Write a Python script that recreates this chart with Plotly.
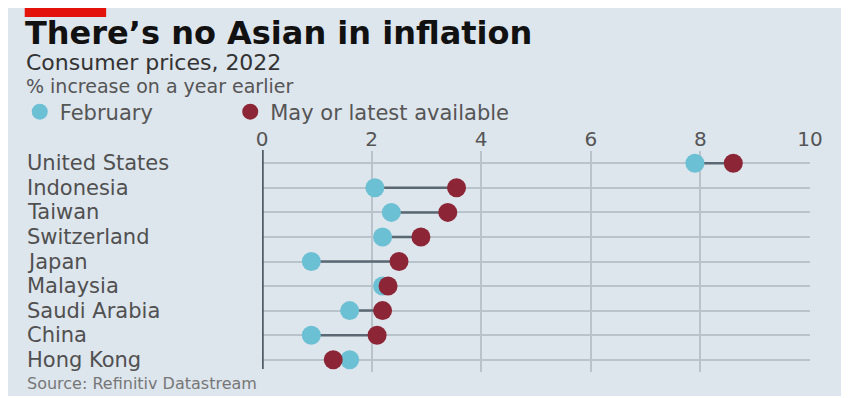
import plotly.graph_objects as go

# ---- data ----
countries = ["United States", "Indonesia", "Taiwan", "Switzerland", "Japan",
             "Malaysia", "Saudi Arabia", "China", "Hong Kong"]
february = [7.9, 2.06, 2.36, 2.2, 0.9, 2.2, 1.6, 0.9, 1.6]
may_latest = [8.6, 3.55, 3.39, 2.9, 2.5, 2.3, 2.2, 2.1, 1.3]
x_ticks = [0, 2, 4, 6, 8, 10]
x_tick_labels = ["0", "2", "4", "6", "8", "10"]

title = "There\u2019s no Asian in inflation"
subtitle = "Consumer prices, 2022"
subtitle2 = "% increase on a year earlier"
source = "Source: Refinitiv Datastream"

# ---- styling ----
OFF = 8  # page body margin
W, H = 838, 388
ML, MR, MT, MB = 250, 36, 143, 24
PW, PH = W - ML - MR, H - MT - MB
BG = "#dde5ed"
TEAL = "#6cc0d3"
RED = "#8c2637"
GRID = "#b8c3cc"
FONT = "DejaVu Sans"
TX = 19  # left edge anchor for texts (screen px)


def px(xs):
    return (xs - OFF - ML) / PW


def py(ys):
    return (H - MB - (ys - OFF)) / PH


rows = list(range(len(countries)))

fig = go.Figure()

# connectors
cx, cy = [], []
for r, a, b in zip(rows, february, may_latest):
    cx += [a, b, None]
    cy += [r, r, None]
fig.add_trace(go.Scatter(x=cx, y=cy, mode="lines",
                         line=dict(color="#5b6873", width=2.5),
                         showlegend=False, hoverinfo="skip"))

fig.add_trace(go.Scatter(x=february, y=rows, mode="markers", name="February",
                         marker=dict(color=TEAL, size=19, line=dict(width=0)),
                         text=countries, cliponaxis=False, legend="legend"))
fig.add_trace(go.Scatter(x=may_latest, y=rows, mode="markers",
                         name="May or latest available",
                         marker=dict(color=RED, size=19, line=dict(width=0)),
                         text=countries, cliponaxis=False, legend="legend2"))

shapes = [
    dict(type="rect", xref="paper", yref="paper", x0=px(19), x1=px(101),
         y0=py(17), y1=py(8), fillcolor="#e3120b", line=dict(width=0)),
    # dark zero axis line
    dict(type="line", xref="x", yref="paper", x0=0, x1=0, y0=py(369), y1=py(150),
         line=dict(color="#505c66", width=3.5)),
]

annotations = [
    dict(text=f"<b>{title}</b>", x=px(TX - 2), y=py(33), xref="paper", yref="paper",
         xanchor="left", yanchor="middle", showarrow=False,
         font=dict(family=FONT, size=32, color="#111111")),
    dict(text=subtitle, x=px(TX - 1), y=py(62), xref="paper", yref="paper",
         xanchor="left", yanchor="middle", showarrow=False,
         font=dict(family=FONT, size=22, color="#333333")),
    dict(text=subtitle2, x=px(TX - 1), y=py(86), xref="paper", yref="paper",
         xanchor="left", yanchor="middle", showarrow=False,
         font=dict(family=FONT, size=19, color="#555555")),
    dict(text=source, x=px(TX), y=py(383), xref="paper", yref="paper",
         xanchor="left", yanchor="middle", showarrow=False,
         font=dict(family=FONT, size=16, color="#777777")),
]
for r, c in zip(rows, countries):
    annotations.append(dict(text=c, x=px(TX), y=r, xref="paper", yref="y",
                            xanchor="left", yanchor="middle", showarrow=False,
                            font=dict(family=FONT, size=21, color="#505050")))

legend_common = dict(orientation="h", y=py(112), xanchor="left",
                     yanchor="middle", bgcolor="rgba(0,0,0,0)",
                     font=dict(family=FONT, size=21, color="#555555"),
                     itemwidth=30)

fig.update_layout(
    width=W, height=H,
    margin=dict(l=ML, r=MR, t=MT, b=MB, pad=0),
    paper_bgcolor=BG,
    plot_bgcolor="rgba(0,0,0,0)",
    font=dict(family=FONT, color="#555555"),
    shapes=shapes,
    annotations=annotations,
    showlegend=True,
    legend=dict(x=px(14), **legend_common),
    legend2=dict(x=px(226), **legend_common),
    xaxis=dict(range=[0, 10], side="top", tickvals=x_ticks,
               ticktext=x_tick_labels, showgrid=True, gridcolor=GRID,
               gridwidth=1.5, zeroline=False, showline=False, ticks="",
               tickfont=dict(family=FONT, size=20, color="#555555"),
               ticklabelstandoff=0, fixedrange=True),
    yaxis=dict(range=[8.5, -0.5], tickvals=rows, showticklabels=False,
               showgrid=True, gridcolor=GRID, gridwidth=1.5, zeroline=False,
               showline=False, ticks="", fixedrange=True),
)

fig.write_html("out.html")
